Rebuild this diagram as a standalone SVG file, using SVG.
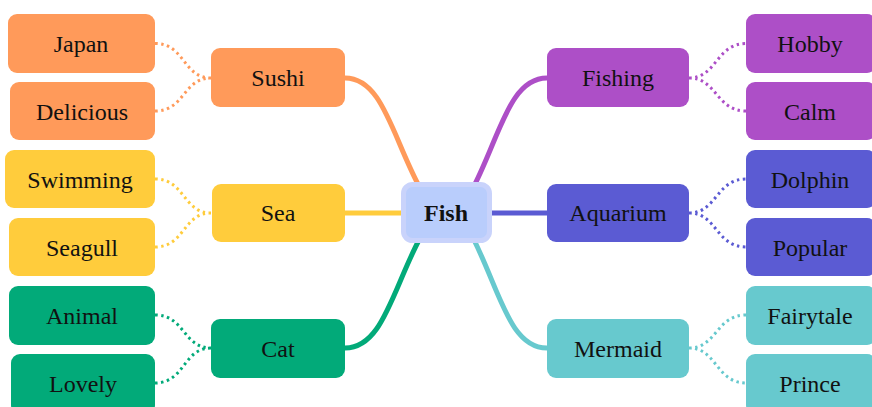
<svg xmlns="http://www.w3.org/2000/svg" width="872" height="407" viewBox="0 0 872 407">
<style>
text{font-family:"Liberation Serif","Times New Roman",serif;font-size:24px;fill:#111;text-anchor:middle}
.b{font-weight:bold}
.main{fill:none;stroke-width:5;stroke-linecap:round}
.dot{fill:none;stroke-width:3;stroke-dasharray:2.5 3.5}
.o{fill:#ff9a5a}.y{fill:#ffcc3c}.g{fill:#02aa79}.p{fill:#ad4fc7}.u{fill:#5b5bd3}.t{fill:#67c9ce}
</style>
<rect width="872" height="407" fill="#fff"/>
<g id="connectors">
<path class="main" stroke="#ff9a5a" d="M345,78 C382,78 392,135 419,186"/>
<path class="main" stroke="#ffcc3c" d="M345,213 L403,213"/>
<path class="main" stroke="#02aa79" d="M345,348 C382,348 392,292 419,240"/>
<path class="main" stroke="#ad4fc7" d="M547,78 C510,78 500,135 474,186"/>
<path class="main" stroke="#5b5bd3" d="M490,213 L547,213"/>
<path class="main" stroke="#67c9ce" d="M547,348 C510,348 500,292 474,240"/>
<path class="dot" stroke="#ff9a5a" d="M155,43.5 C185,43.5 183,78 211,78 M155,111 C185,111 183,78 211,78"/>
<path class="dot" stroke="#ffcc3c" d="M155,179 C185,179 183,213 211,213 M155,247 C185,247 183,213 211,213"/>
<path class="dot" stroke="#02aa79" d="M155,315 C185,315 183,348 211,348 M155,383 C185,383 183,348 211,348"/>
<path class="dot" stroke="#ad4fc7" d="M689,78 C717,78 716,43.5 746,43.5 M689,78 C717,78 716,111 746,111"/>
<path class="dot" stroke="#5b5bd3" d="M689,213 C717,213 716,179 746,179 M689,213 C717,213 716,247 746,247"/>
<path class="dot" stroke="#67c9ce" d="M689,348 C717,348 716,315 746,315 M689,348 C717,348 716,383 746,383"/>
</g>
<g id="fish"><rect x="403.5" y="184.5" width="86" height="56" rx="9" fill="#b9cdfc" stroke="#c9d3fb" stroke-width="5"/><text class="b" x="446" y="221">Fish</text></g>
<g id="sushi"><rect class="o" x="211" y="48" width="134" height="59" rx="9"/><text x="278" y="86">Sushi</text></g>
<g id="sea"><rect class="y" x="212" y="184" width="133" height="58" rx="9"/><text x="278" y="221">Sea</text></g>
<g id="cat"><rect class="g" x="211" y="319" width="134" height="59" rx="9"/><text x="278" y="357">Cat</text></g>
<g id="fishing"><rect class="p" x="547" y="48" width="142" height="59" rx="9"/><text x="618" y="86">Fishing</text></g>
<g id="aquarium"><rect class="u" x="547" y="184" width="142" height="58" rx="9"/><text x="618" y="221">Aquarium</text></g>
<g id="mermaid"><rect class="t" x="547" y="319" width="142" height="59" rx="9"/><text x="618" y="357">Mermaid</text></g>
<g id="japan"><rect class="o" x="8" y="14" width="147" height="59" rx="9"/><text x="81" y="52">Japan</text></g>
<g id="delicious"><rect class="o" x="10" y="82" width="145" height="58" rx="9"/><text x="82" y="120">Delicious</text></g>
<g id="swimming"><rect class="y" x="5" y="150" width="150" height="58" rx="9"/><text x="80" y="188">Swimming</text></g>
<g id="seagull"><rect class="y" x="9" y="218" width="146" height="58" rx="9"/><text x="82" y="256">Seagull</text></g>
<g id="animal"><rect class="g" x="9" y="286" width="146" height="59" rx="9"/><text x="82" y="324">Animal</text></g>
<g id="lovely"><rect class="g" x="11" y="354" width="144" height="60" rx="9"/><text x="83" y="392">Lovely</text></g>
<g id="hobby"><rect class="p" x="746" y="14" width="130" height="59" rx="9"/><text x="810" y="52">Hobby</text></g>
<g id="calm"><rect class="p" x="746" y="82" width="130" height="58" rx="9"/><text x="810" y="120">Calm</text></g>
<g id="dolphin"><rect class="u" x="746" y="150" width="130" height="58" rx="9"/><text x="810" y="188">Dolphin</text></g>
<g id="popular"><rect class="u" x="746" y="218" width="130" height="58" rx="9"/><text x="810" y="256">Popular</text></g>
<g id="fairytale"><rect class="t" x="746" y="286" width="130" height="59" rx="9"/><text x="810" y="324">Fairytale</text></g>
<g id="prince"><rect class="t" x="746" y="354" width="130" height="60" rx="9"/><text x="810" y="392">Prince</text></g>
</svg>
